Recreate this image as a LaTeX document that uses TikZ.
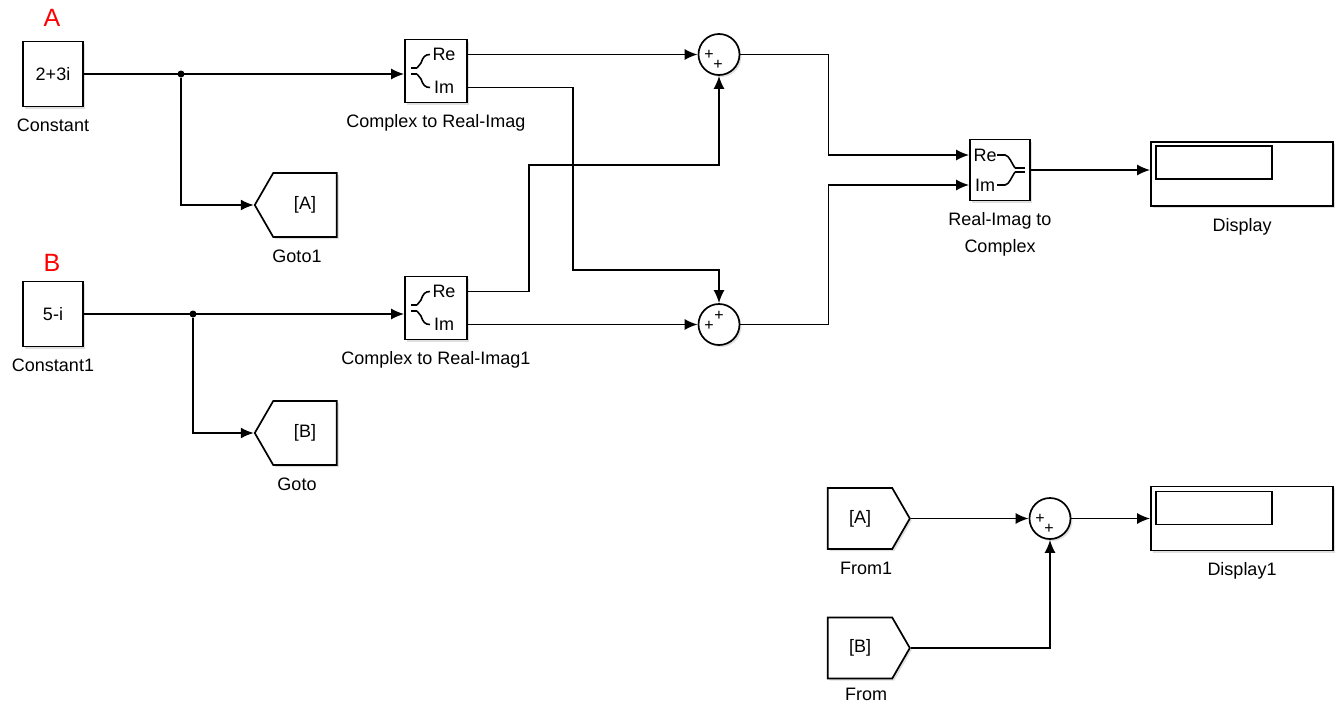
\documentclass[tikz,border=0pt]{standalone}
\usepackage{fontspec}
\setmainfont{Liberation Sans}
\usepackage{tikz}
\usetikzlibrary{arrows.meta, positioning, shapes.symbols, shadows}
\definecolor{tagred}{HTML}{FF0000}

\begin{document}
\begin{tikzpicture}[
  x=1pt, y=-1pt,
  font=\fontsize{18}{21}\selectfont,
  shade/.style={drop shadow={opacity=0.25, shadow xshift=2pt, shadow yshift=-2pt}},
  blk/.style={rectangle, draw, line width=1.7pt, fill=white, inner sep=0pt, shade},
  const/.style={blk, minimum width=60pt, minimum height=65pt},
  split/.style={blk, minimum width=62pt, minimum height=63pt},
  disp/.style={blk, minimum width=182pt, minimum height=64pt},
  sum/.style={circle, draw, line width=1.7pt, fill=white, minimum size=41pt, inner sep=0pt, shade},
  tagbox/.style={signal, signal pointer angle=120, draw, line width=1.7pt, fill=white,
    minimum width=82pt, minimum height=64pt, inner sep=0pt, shade},
  gototag/.style={tagbox, signal to=west},
  fromtag/.style={tagbox, signal to=east, minimum height=61pt},
  lbl/.style={inner sep=0pt, text height=13pt, text depth=4pt},
  plus/.style={inner sep=0pt, font=\fontsize{16}{16}\selectfont},
  dot/.style={circle, fill, inner sep=0pt, minimum size=7pt},
  wire/.style={line width=1.7pt, -{Latex[length=13pt, width=11pt]}},
  line/.style={line width=1.6pt},
  node distance=11pt
]
\useasboundingbox (0,0) rectangle (1343,704);

% sources
\node[const] (c1) at (53,74) {2+3i};
\node[lbl, below=of c1] (c1lbl) {Constant};
\node[font=\fontsize{25}{25}\selectfont, text=tagred, inner sep=0pt] (tagA) at (52,18) {A};
\node[const] (c2) at (53,314) {5-i};
\node[lbl, below=of c2] (c2lbl) {Constant1};
\node[font=\fontsize{25}{25}\selectfont, text=tagred, inner sep=0pt] (tagB) at (52,263) {B};

\node[dot] (j1) at (181,74) {};
\node[dot] (j2) at (193,314) {};

\node[gototag] (goto1) at (305,205) {[A]};
\node[lbl, below=of goto1, xshift=-8pt] (goto1lbl) {Goto1};
\node[gototag] (goto) at (305,433) {[B]};
\node[lbl, below=of goto, xshift=-8pt] (gotolbl) {Goto};

% complex to real-imag
\node[split] (cri1) at (436,71) {};
\node[lbl, below=of cri1] (cri1lbl) {Complex to Real-Imag};
\node[split] (cri2) at (436,308) {};
\node[lbl, below=of cri2] (cri2lbl) {Complex to Real-Imag1};
\foreach \b in {cri1,cri2} {
  \begin{scope}[shift={(\b.center)}]
    \draw[line] (-25,-3) -- (-19,-3) (-25,3) -- (-19,3);
    \draw[line] (-19,-3) -- (-15,-8) .. controls (-13,-14) and (-11,-16.5) .. (-6,-16.5);
    \draw[line] (-19,3) -- (-15,8) .. controls (-13,14) and (-11,16.5) .. (-6,16.5);
    \node[inner sep=0pt] (\b re) at (8,-16.5) {Re};
    \node[inner sep=0pt] (\b im) at (8,16.5) {Im};
  \end{scope}
  \coordinate (\b reo) at ([yshift=16.5pt]\b.east);
  \coordinate (\b imo) at ([yshift=-16.5pt]\b.east);
}

% sums
\node[sum] (sum1) at (719,54.5) {};
\node[plus] (s1a) at (709,54.5) {+};
\node[plus] (s1b) at (718,64.5) {+};
\node[sum] (sum2) at (719,324.5) {};
\node[plus] (s2a) at (719,315.5) {+};
\node[plus] (s2b) at (709,325.5) {+};

% real-imag to complex
\node[split, minimum width=60pt, minimum height=61pt] (ri2c) at (1000,170) {};
\node[inner sep=0pt, align=center, font=\fontsize{18}{27}\selectfont, below=11pt of ri2c] (ri2clbl) {Real-Imag to\\Complex};
\begin{scope}[shift={(ri2c.center)}]
  \node[inner sep=0pt] (ri2cre) at (-15,-15) {Re};
  \node[inner sep=0pt] (ri2cim) at (-15,15) {Im};
  \draw[line] (-3,-15) -- (5,-15) .. controls (9,-15) and (12,-6) .. (15,-2);
  \draw[line] (-3,15) -- (5,15) .. controls (9,15) and (12,6) .. (15,2);
  \draw[line] (15,-2) -- (25,-2) (15,2) -- (25,2);
\end{scope}
\coordinate (ri2crei) at ([yshift=15pt]ri2c.west);
\coordinate (ri2cimi) at ([yshift=-15pt]ri2c.west);

% displays
\node[disp] (disp) at (1242,174) {};
\draw[line] ([xshift=6pt,yshift=-5pt]disp.north west) rectangle ([xshift=122pt,yshift=-38pt]disp.north west);
\node[lbl, below=of disp] (displbl) {Display};
\node[disp] (disp1) at (1242,518.5) {};
\draw[line] ([xshift=6pt,yshift=-6pt]disp1.north west) rectangle ([xshift=122pt,yshift=-39pt]disp1.north west);
\node[lbl, below=of disp1] (disp1lbl) {Display1};

% from blocks and third sum
\node[fromtag] (from1) at (860,518.5) {[A]};
\node[lbl, below=of from1, xshift=6pt] (from1lbl) {From1};
\node[fromtag] (from) at (860,648) {[B]};
\node[lbl, below=8pt of from, xshift=6pt] (fromlbl) {From};
\node[sum] (sum3) at (1050,518.5) {};
\node[plus] (s3a) at (1040,518.5) {+};
\node[plus] (s3b) at (1049,528.5) {+};

% wires
\draw[wire] (c1.east) -- (c1.east -| cri1.west);
\draw[wire] (j1) |- (goto1.west);
\draw[wire] (c2.east) -- (c2.east -| cri2.west);
\draw[wire] (j2) |- (goto.west);
\draw[wire] (cri1reo) -- (sum1.west);
\draw[wire] (cri1imo) -| ++(105,182.5) -| (sum2.north);
\draw[wire] (cri2reo) -| ++(61,-126.5) -| (sum1.south);
\draw[wire] (cri2imo) -- (sum2.west);
\draw[wire] (sum1.east) -- ++(88,0) |- (ri2crei);
\draw[wire] (sum2.east) -- ++(88,0) |- (ri2cimi);
\draw[wire] (ri2c.east) -- (ri2c.east -| disp.west);
\draw[wire] (from1.east) -- (sum3.west);
\draw[wire] (from.east) -| (sum3.south);
\draw[wire] (sum3.east) -- (disp1.west);
\end{tikzpicture}
\end{document}
